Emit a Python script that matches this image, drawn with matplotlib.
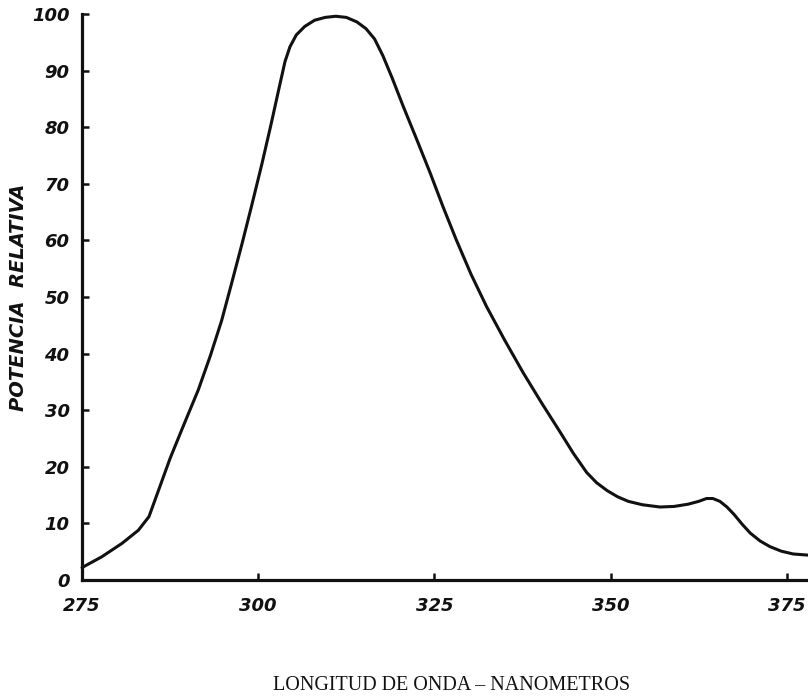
"""Relative power spectrum (POTENCIA RELATIVA vs wavelength), scanned-figure style."""
import matplotlib
matplotlib.use('Agg')
import matplotlib.pyplot as plt

INK = '#111111'

# curve (nm, relative power)
wavelength = [275, 277.8, 280.7, 283, 284.5, 285.9, 287.5, 289.4, 291.5, 293.2,
              294.8, 296.2, 297.7, 299.1, 300.5, 301.8, 302.9, 303.8, 304.5,
              305.4, 306.6, 308, 309.5, 311, 312.5, 314, 315.3, 316.5, 317.7,
              319, 320.6, 322.5, 324.4, 326.2, 328.1, 330.2, 332.4, 335, 337.6,
              340.2, 342.8, 344.7, 346.6, 348, 349.5, 351, 352.5, 354.5, 357,
              359, 361, 362.5, 363.6, 364.5, 365.5, 366.5, 367.5, 368.7, 369.8,
              371.2, 372.6, 374.2, 375.9, 378]
power = [2.2, 4.1, 6.5, 8.8, 11.2, 16.0, 21.5, 27.3, 33.6, 39.6,
         45.8, 52.3, 59.4, 66.3, 73.4, 80.4, 86.6, 91.6, 94.2,
         96.3, 97.8, 98.9, 99.4, 99.6, 99.4, 98.6, 97.4, 95.6, 92.6,
         88.7, 83.6, 77.8, 71.9, 66.0, 60.1, 54.0, 48.3, 42.3, 36.6,
         31.3, 26.2, 22.4, 19.0, 17.2, 15.8, 14.7, 13.9, 13.3, 12.9,
         13.0, 13.4, 13.9, 14.4, 14.4, 13.9, 12.9, 11.6, 9.8, 8.3,
         6.9, 5.9, 5.1, 4.6, 4.4]

x_ticks = [275, 300, 325, 350, 375]
y_ticks = [0, 10, 20, 30, 40, 50, 60, 70, 80, 90, 100]

TICK_FONT = dict(family='DejaVu Sans', weight='bold', style='italic', size=13)

fig = plt.figure(figsize=(8.08, 7.0), dpi=100, facecolor='white')
ax = fig.add_axes([0.1015, 0.1714, 0.8985, 0.8086])

ax.plot(wavelength, power, color=INK, linewidth=2.2,
        solid_joinstyle='round', solid_capstyle='round', clip_on=False)

ax.set_xlim(275, 378)
ax.set_ylim(0, 100)
ax.set_xticks(x_ticks)
ax.set_yticks(y_ticks)
ax.set_xticklabels([str(t) for t in x_ticks], fontdict=TICK_FONT)
ax.set_yticklabels([str(t) for t in y_ticks], fontdict=TICK_FONT)
ax.tick_params(axis='both', direction='in', length=5, width=1.8, colors=INK)
ax.tick_params(axis='x', pad=12)
ax.tick_params(axis='y', pad=9)

for side in ('top', 'right'):
    ax.spines[side].set_visible(False)
for side in ('left', 'bottom'):
    ax.spines[side].set_linewidth(2.3)
    ax.spines[side].set_color(INK)

ax.set_ylabel('POTENCIA  RELATIVA', family='DejaVu Sans', weight='bold',
              style='italic', size=14, color=INK)
ax.yaxis.set_label_coords(-0.074, 0.50)

fig.text(0.559, 0.007, 'LONGITUD DE ONDA \u2013 NANOMETROS',
         family='Liberation Serif', size=14.5, color=INK, ha='center',
         va='bottom')

fig.savefig('out.png', dpi=100, facecolor='white')
